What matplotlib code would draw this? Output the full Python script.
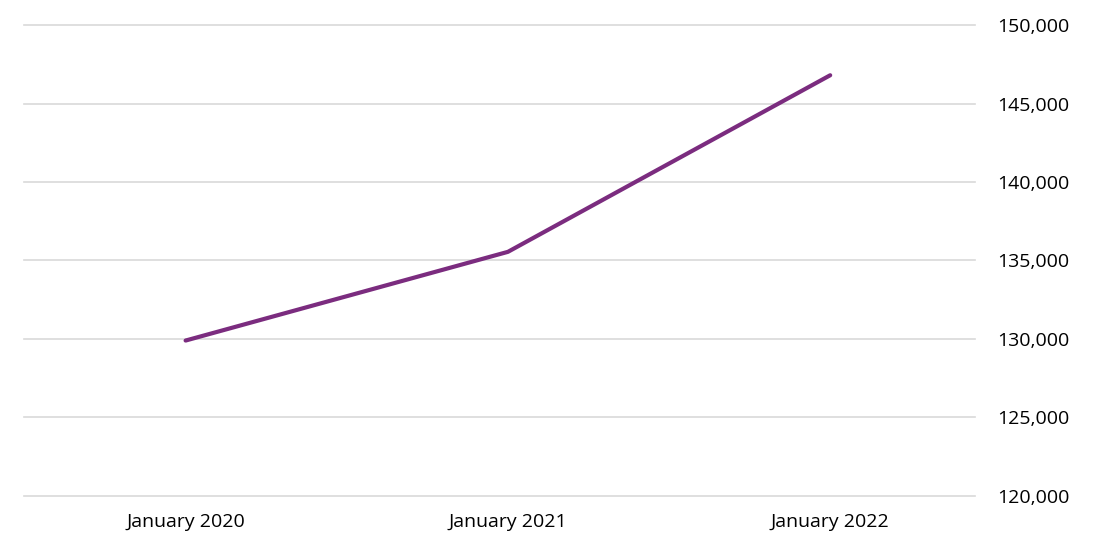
import matplotlib
matplotlib.use("Agg")
import matplotlib.pyplot as plt
from matplotlib.ticker import FuncFormatter

categories = ["January 2020", "January 2021", "January 2022"]
values = [129900, 135550, 146800]
yticks = [120000, 125000, 130000, 135000, 140000, 145000, 150000]

plt.rcParams['font.family'] = ['Open Sans', 'DejaVu Sans']
fig = plt.figure(figsize=(11.12, 5.56), dpi=100)
ax = fig.add_axes([0.022, 0.108, 0.855, 0.847])
ax.plot(range(len(categories)), values, color="#7B2C7F", lw=3, solid_capstyle="round")
ax.set_xlim(-0.5, 2.45)
ax.set_ylim(120000, 150000)
ax.set_yticks(yticks)
ax.yaxis.tick_right()
ax.yaxis.set_major_formatter(FuncFormatter(lambda v, p: f"{int(v):,}"))
ax.set_xticks(range(len(categories)))
ax.set_xticklabels(categories)
ax.grid(axis="y", color="#D9D9D9", lw=1.2, clip_on=False)
for gl in ax.get_ygridlines():
    gl.set_clip_on(False)
ax.set_axisbelow(True)
for s in ax.spines.values():
    s.set_visible(False)
ax.tick_params(length=0, labelsize=14, colors="#000000")
ax.tick_params(axis="y", pad=16)
ax.tick_params(axis="x", pad=12)
fig.savefig("out.png", dpi=100)
